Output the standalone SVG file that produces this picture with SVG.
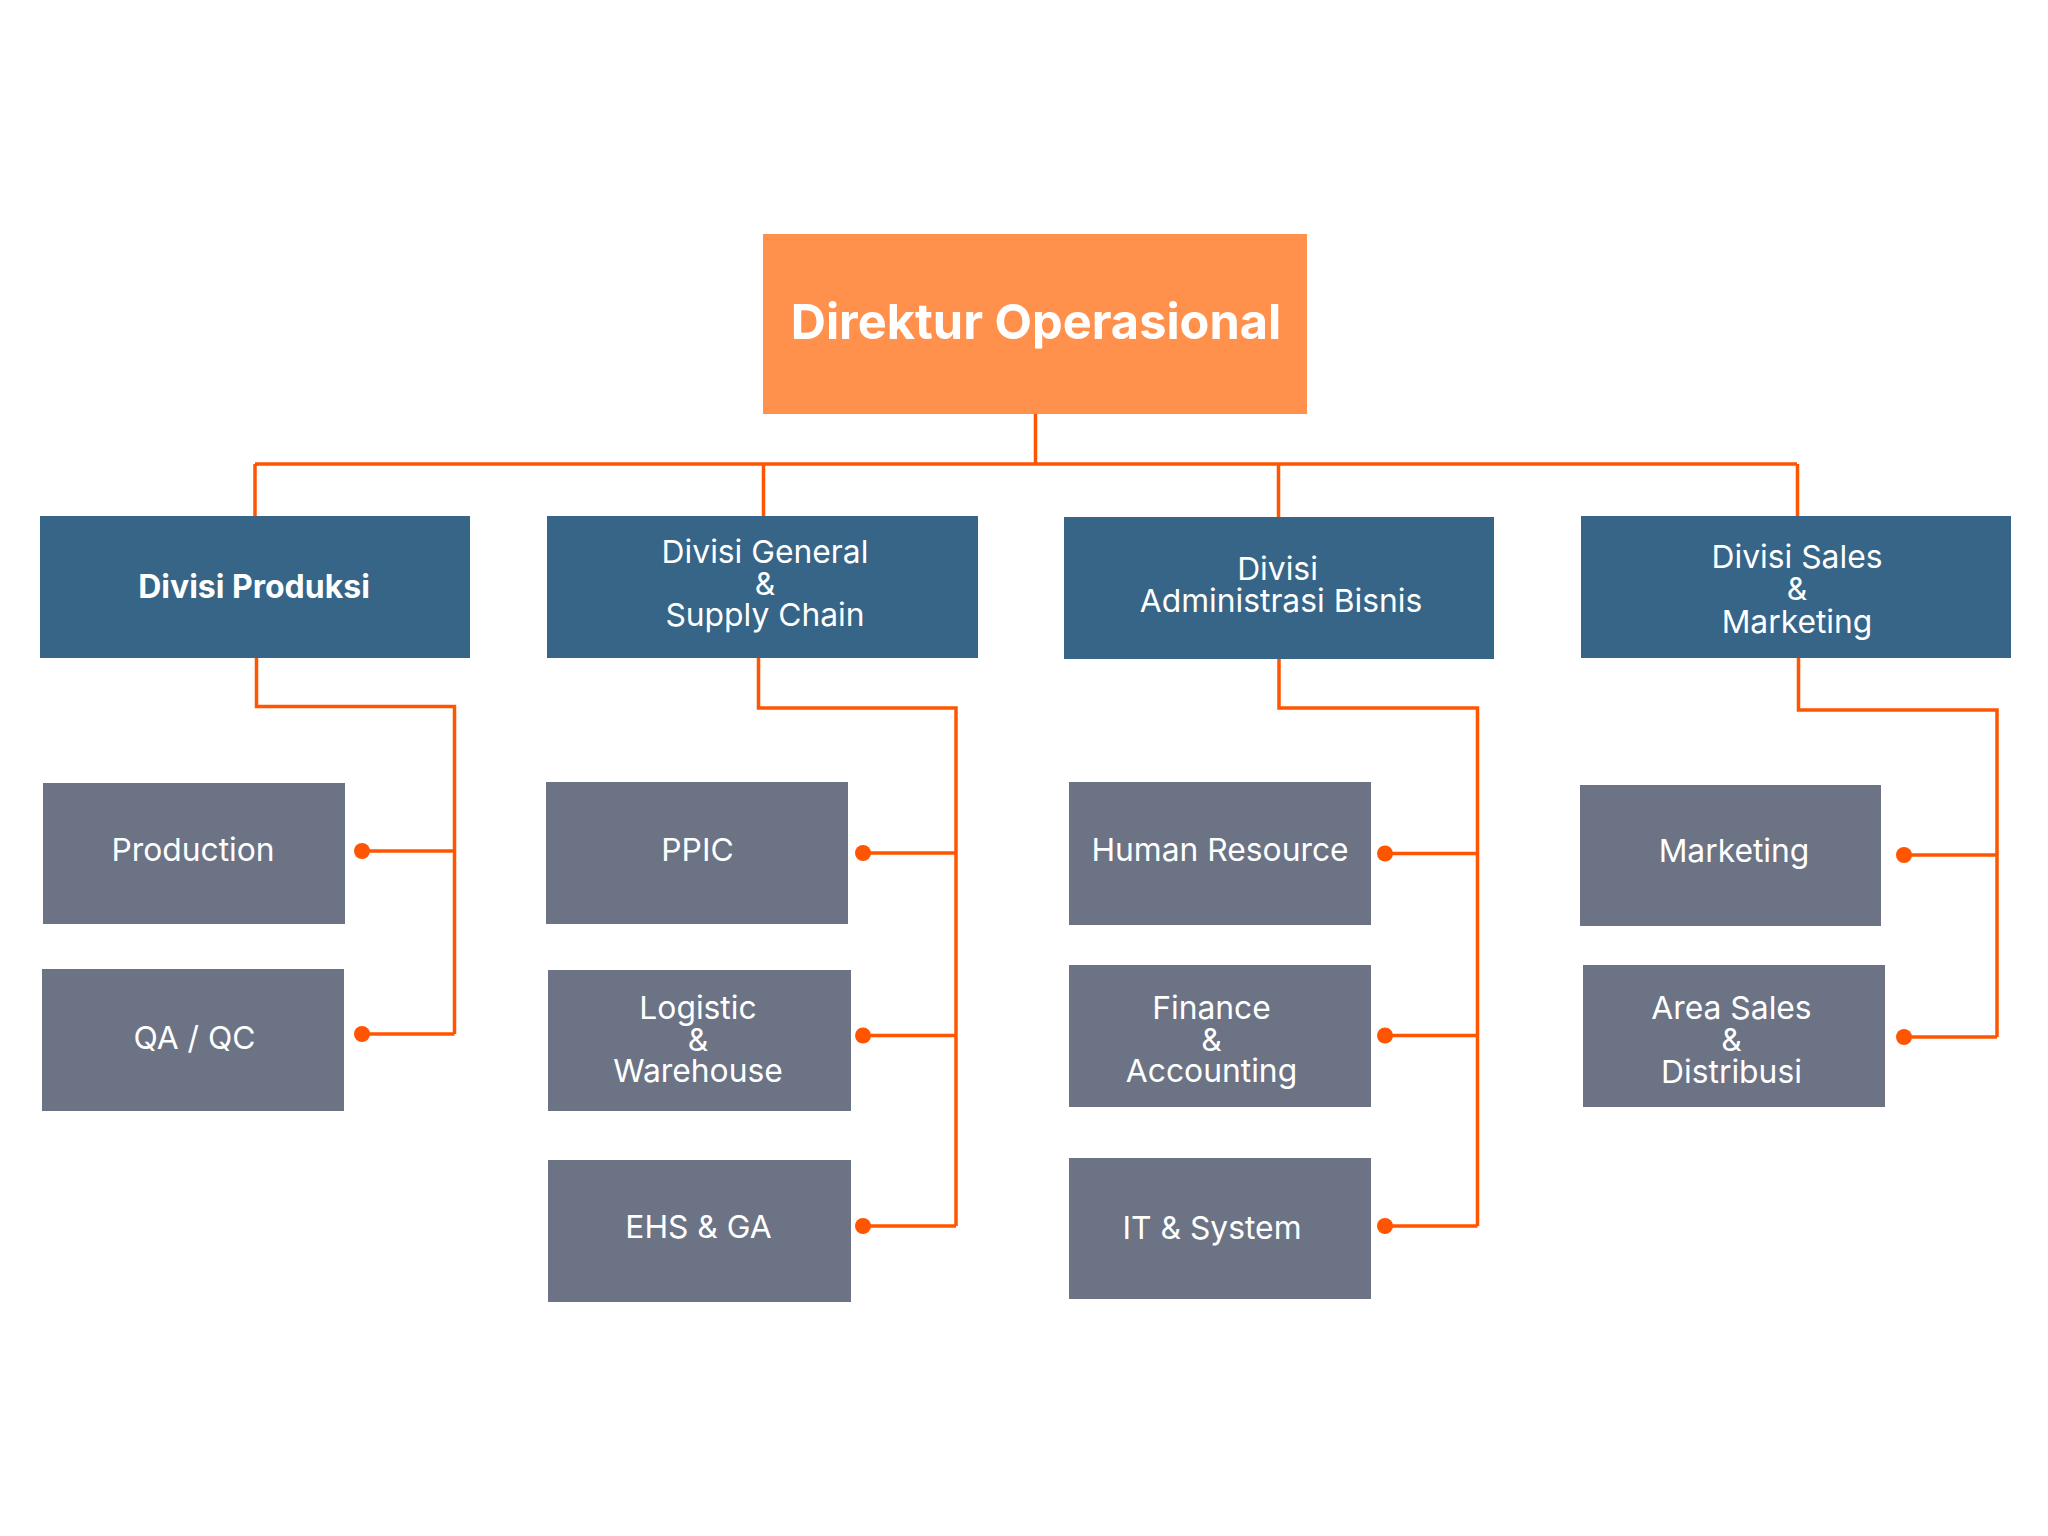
<svg xmlns="http://www.w3.org/2000/svg" width="2048" height="1536" viewBox="0 0 2048 1536">
<defs>
<style>
.top{fill:#FF914D}
.div{fill:#366587}
.sub{fill:#6B7385}
.t{font-family:Inter,"Noto Sans","Liberation Sans",sans-serif;fill:#FFFFFF;text-anchor:middle;font-size:31.8px}
.tb{font-weight:700}
.ln{fill:none;stroke:#FF5500;stroke-width:3.5;stroke-linejoin:miter;stroke-linecap:butt}
.dot{fill:#FF5500}
</style>
</defs>
<rect width="2048" height="1536" fill="#FFFFFF"/>
<g id="connectors">
<path class="ln" d="M1035.5 414 V464 M255 464 H1797 M255 464 V516 M763.5 464 V516 M1278.5 464 V517 M1797.5 464 V516"/>
<path class="ln" d="M256.5 658 V706.5 H454.5 V1034 M362 851 H454.5 M362 1034 H454.5"/>
<path class="ln" d="M758.5 658 V708 H956 V1226 M863 853 H956 M863 1035.5 H956 M863 1226 H956"/>
<path class="ln" d="M1279 659 V708 H1477.5 V1226 M1385 853.5 H1477.5 M1385 1035.5 H1477.5 M1385 1226 H1477.5"/>
<path class="ln" d="M1798.5 658 V710 H1997 V1037 M1904 855 H1997 M1904 1037 H1997"/>
<circle class="dot" cx="362" cy="851" r="8"/>
<circle class="dot" cx="362" cy="1034" r="8"/>
<circle class="dot" cx="863" cy="853" r="8"/>
<circle class="dot" cx="863" cy="1035.5" r="8"/>
<circle class="dot" cx="863" cy="1226" r="8"/>
<circle class="dot" cx="1385" cy="853.5" r="8"/>
<circle class="dot" cx="1385" cy="1035.5" r="8"/>
<circle class="dot" cx="1385" cy="1226" r="8"/>
<circle class="dot" cx="1904" cy="855" r="8"/>
<circle class="dot" cx="1904" cy="1037" r="8"/>
</g>
<g id="direktur">
<rect class="top" x="763" y="234" width="544" height="180"/>
<text class="t tb" x="1036" y="339" style="font-size:48.7px">Direktur Operasional</text>
</g>
<g id="divisi-produksi">
<rect class="div" x="40" y="516" width="430" height="142"/>
<text class="t tb" x="254" y="598" style="font-size:32px">Divisi Produksi</text>
</g>
<g id="divisi-general">
<rect class="div" x="547" y="516" width="431" height="142"/>
<text class="t" x="765" y="563">Divisi General</text>
<text class="t" x="765" y="594.5">&amp;</text>
<text class="t" x="765" y="626">Supply Chain</text>
</g>
<g id="divisi-administrasi">
<rect class="div" x="1064" y="517" width="430" height="142"/>
<text class="t" x="1277.5" y="579.5">Divisi</text>
<text class="t" x="1281" y="611.5">Administrasi Bisnis</text>
</g>
<g id="divisi-sales">
<rect class="div" x="1581" y="516" width="430" height="142"/>
<text class="t" x="1797" y="568">Divisi Sales</text>
<text class="t" x="1797" y="600">&amp;</text>
<text class="t" x="1797" y="632.5">Marketing</text>
</g>
<g id="production">
<rect class="sub" x="43" y="783" width="302" height="141"/>
<text class="t" x="193" y="861">Production</text>
</g>
<g id="qa-qc">
<rect class="sub" x="42" y="969" width="302" height="142"/>
<text class="t" x="194.5" y="1049">QA / QC</text>
</g>
<g id="ppic">
<rect class="sub" x="546" y="782" width="302" height="142"/>
<text class="t" x="697.5" y="861">PPIC</text>
</g>
<g id="logistic">
<rect class="sub" x="548" y="970" width="303" height="141"/>
<text class="t" x="698" y="1019">Logistic</text>
<text class="t" x="698" y="1050.5">&amp;</text>
<text class="t" x="698" y="1082">Warehouse</text>
</g>
<g id="ehs-ga">
<rect class="sub" x="548" y="1160" width="303" height="142"/>
<text class="t" x="698.5" y="1238">EHS &amp; GA</text>
</g>
<g id="human-resource">
<rect class="sub" x="1069" y="782" width="302" height="143"/>
<text class="t" x="1220" y="861">Human Resource</text>
</g>
<g id="finance">
<rect class="sub" x="1069" y="965" width="302" height="142"/>
<text class="t" x="1211.5" y="1019">Finance</text>
<text class="t" x="1211.5" y="1050.5">&amp;</text>
<text class="t" x="1211.5" y="1082">Accounting</text>
</g>
<g id="it-system">
<rect class="sub" x="1069" y="1158" width="302" height="141"/>
<text class="t" x="1212" y="1239">IT &amp; System</text>
</g>
<g id="marketing">
<rect class="sub" x="1580" y="785" width="301" height="141"/>
<text class="t" x="1734" y="862">Marketing</text>
</g>
<g id="area-sales">
<rect class="sub" x="1583" y="965" width="302" height="142"/>
<text class="t" x="1731.5" y="1019">Area Sales</text>
<text class="t" x="1731.5" y="1051">&amp;</text>
<text class="t" x="1731.5" y="1083">Distribusi</text>
</g>
</svg>
